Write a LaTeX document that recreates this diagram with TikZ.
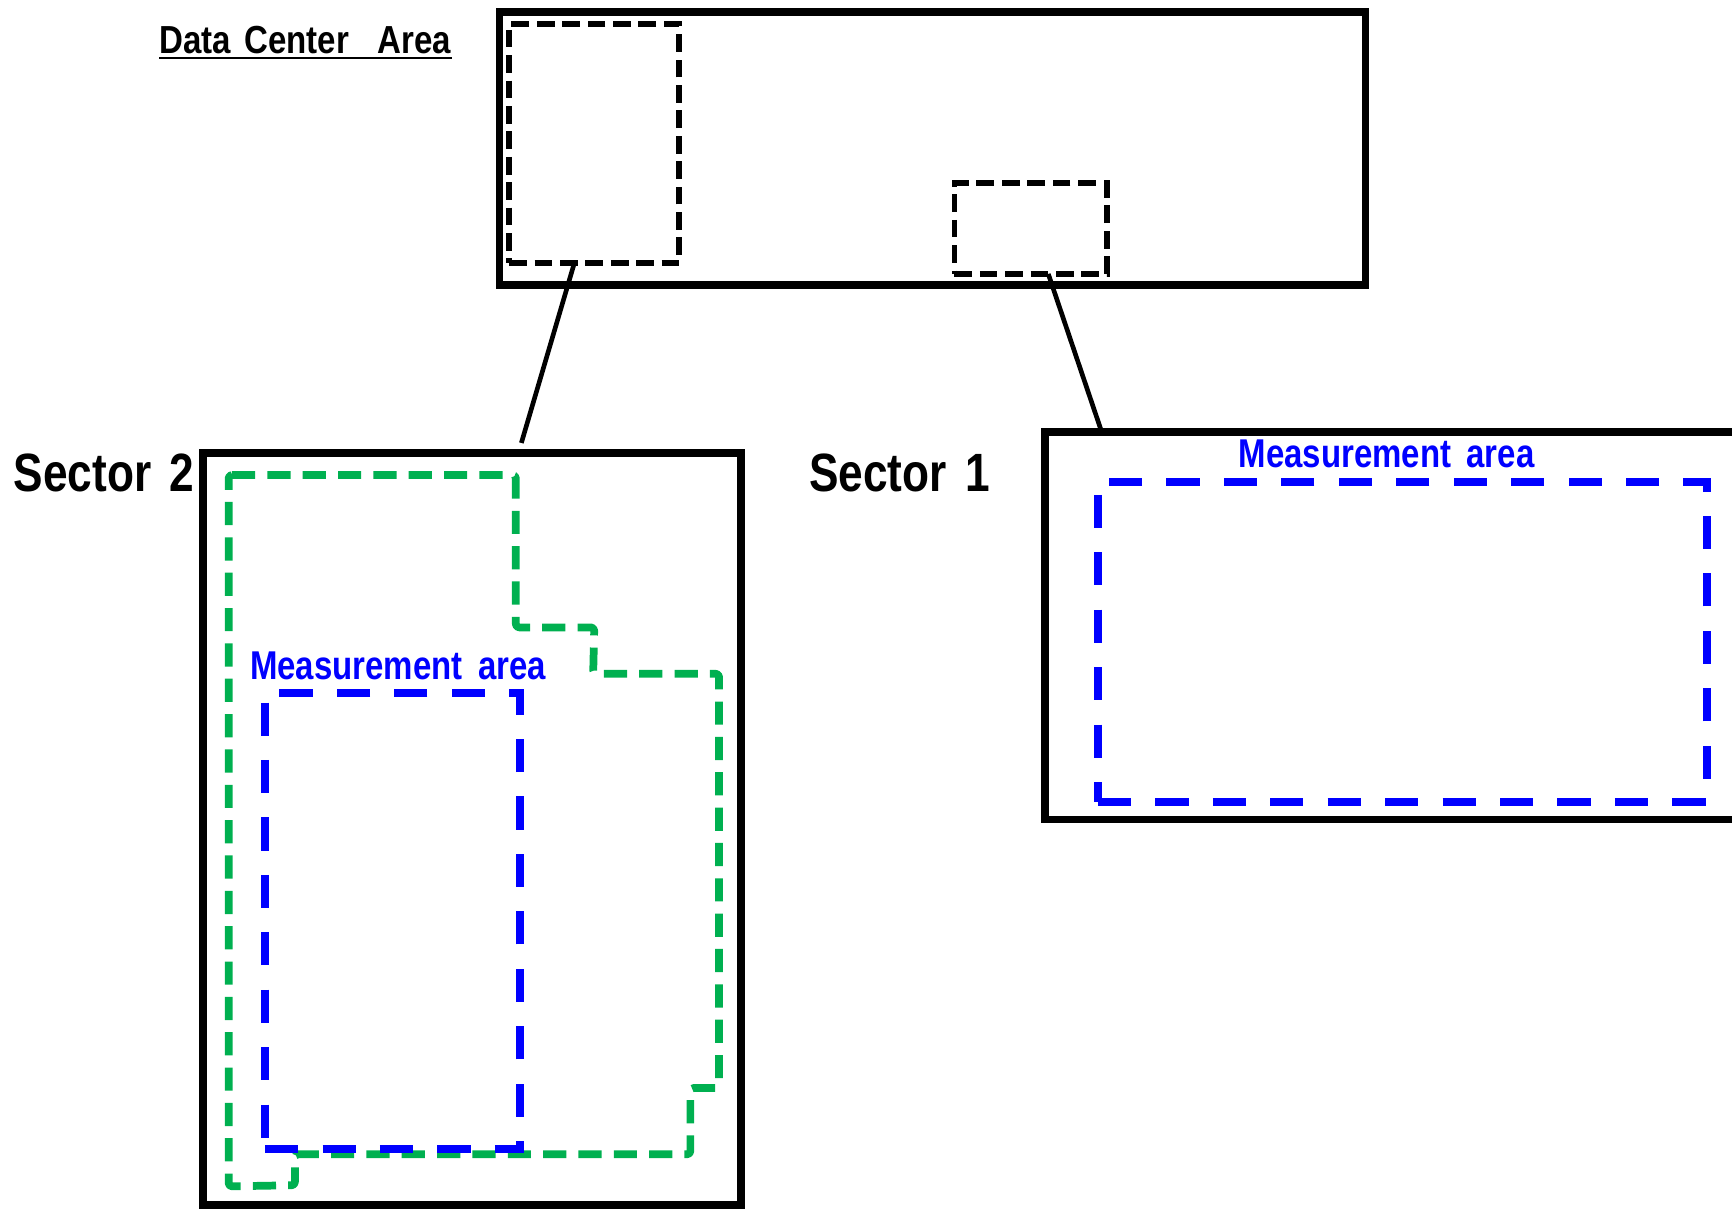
\documentclass[tikz,border=0pt]{standalone}
\usepackage{fontspec}
\newfontfamily\condb[FakeStretch=0.82]{Liberation Sans}
\newfontfamily\condc[FakeStretch=0.845]{Liberation Sans}
\definecolor{mgreen}{HTML}{00B050}
\definecolor{mblue}{HTML}{0000FF}
\begin{document}
\begin{tikzpicture}[x=0.5pt,y=-0.5pt,
  frame/.style={draw=black,line width=3.4pt,inner sep=0pt,outer sep=0pt},
  zone/.style={draw=black,line width=2.6pt,dash pattern=on 8pt off 3.5pt,inner sep=0pt,outer sep=0pt},
  meas/.style={draw=mblue,line width=3.6pt,dash pattern=on 15pt off 11pt,inner sep=0pt,outer sep=0pt},
  room/.style={draw=mgreen,line width=3.5pt,dash pattern=on 10.5pt off 5.5pt,line join=round,rounded corners=1.5pt},
  link/.style={draw=black,line width=2.1pt},
  lbl/.style={inner sep=0pt,anchor=base west,font=\condb\bfseries}]
\useasboundingbox (0,0) rectangle (1568,1095);
\clip (0,0) rectangle (1568,1095);
% top data center area
\node[frame,minimum width=392pt,minimum height=123.5pt] (dc) at (844,134.5) {};
\node[zone,minimum width=77pt,minimum height=108pt] (z2) at (538,130) {};
\node[zone,minimum width=69pt,minimum height=41pt] (z1) at (933,207) {};
\node[lbl,font=\condc\bfseries\fontsize{17.7}{20}\selectfont] (dct) at (144,48) {Data\hspace{6pt}Center\hspace{13pt}Area};
\draw[line width=1pt] ([yshift=-2.2pt]dct.base west) -- ([yshift=-2.2pt]dct.base east);
% sector 2
\node[frame,minimum width=243.5pt,minimum height=340.5pt] (s2) at (427.5,750.5) {};
\node[lbl,font=\condb\bfseries\fontsize{24.4}{28}\selectfont] (s2t) at (12,445) {Sector\hspace{8.5pt}2};
\draw[room] (207,430) -- (467,430) -- (467,568) -- (538,568) -- (537,610) -- (651,610)
  -- (651,985) -- (625,985) -- (625,1045) -- (267,1045) -- (267,1073) -- (207,1074) -- cycle;
\node[meas,minimum width=115.5pt,minimum height=206.5pt] (m2) at (355.5,833.5) {};
\node[lbl,text=mblue,font=\condb\bfseries\fontsize{18.2}{21}\selectfont] (m2t) at (226,615) {Measurement\hspace{7pt}area};
% sector 1
\node[frame,minimum width=322pt,minimum height=175.5pt] (s1) at (1268,566.5) {};
\node[lbl,font=\condb\bfseries\fontsize{24.4}{28}\selectfont] (s1t) at (732,445) {Sector\hspace{8.5pt}1};
\node[meas,minimum width=275.5pt,minimum height=145pt] (m1) at (1269.5,581) {};
\node[lbl,text=mblue,font=\condb\bfseries\fontsize{18.2}{21}\selectfont] (m1t) at (1121,423) {Measurement\hspace{7pt}area};
% connectors
\coordinate (c2a) at (520,238);
\coordinate (c2b) at (472,401);
\coordinate (c1a) at (949,248);
\coordinate (c1b) at (997,390);
\draw[link] (c2a) -- (c2b);
\draw[link] (c1a) -- (c1b);
\end{tikzpicture}
\end{document}
